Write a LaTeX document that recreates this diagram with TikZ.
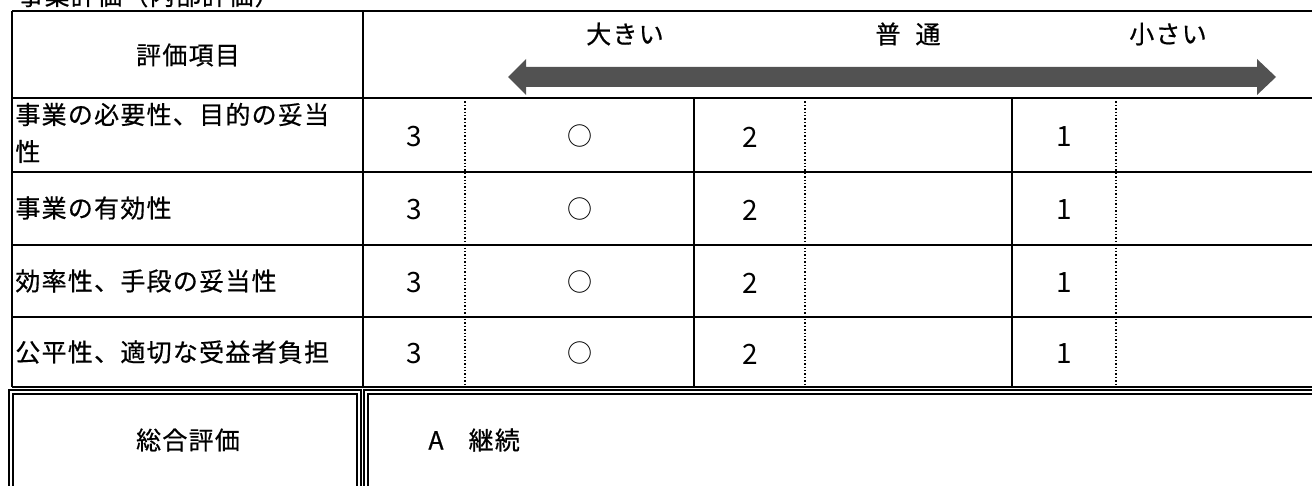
\documentclass[tikz,border=0pt]{standalone}
\usepackage{fontspec}
\setmainfont[LetterSpace=5,FakeBold=0.6]{Noto Sans CJK JP}
\newfontfamily\numfont{Noto Sans CJK JP}

\begin{document}
\begin{tikzpicture}[x=0.5pt,y=-0.5pt,
  cell_txt/.style={inner sep=0pt,font=\fontsize{12.5pt}{14pt}\selectfont},
  num_txt/.style={inner sep=0pt,font=\numfont\fontsize{14pt}{16pt}\selectfont},
  mark_txt/.style={inner sep=0pt,font=\numfont\fontsize{12.5pt}{14pt}\selectfont},
  rule_solid/.style={line width=1pt},
  rule_dot/.style={line width=0.7pt,densely dotted},
  rule_dbl/.style={line width=0.75pt}]

\useasboundingbox (0,0) rectangle (1312,486) ;
\clip (0,0) rectangle (1312,486) ;

% title, cut at the top
\node[cell_txt,anchor=base west] (title_txt) at (18,5) {事業評価（内部評価）} ;

% grid of the upper table
\draw[rule_solid] (12,11) -- (1320,11) ;
\draw[rule_solid] (12,98) -- (1320,98) ;
\draw[rule_solid] (12,172) -- (1320,172) ;
\draw[rule_solid] (12,245) -- (1320,245) ;
\draw[rule_solid] (12,317) -- (1320,317) ;
\draw[rule_solid] (12,387) -- (1320,387) ;

\draw[rule_solid] (12,11) -- (12,387) ;
\draw[rule_solid] (363,11) -- (363,387) ;
\draw[rule_solid] (694,98) -- (694,387) ;
\draw[rule_solid] (1012,98) -- (1012,387) ;
\draw[rule_dot] (465,98) -- (465,387) ;
\draw[rule_dot] (805,98) -- (805,387) ;
\draw[rule_dot] (1116,98) -- (1116,387) ;

% header
\node[cell_txt] (head_item) at (188,55) {評価項目} ;
\node[cell_txt] (head_big) at (625,34) {大きい} ;
\node[cell_txt] (head_mid) at (908,34) {普\hspace{0.6em}通} ;
\node[cell_txt] (head_small) at (1168,34) {小さい} ;

\fill[black!68] (508,77) -- (526,59) -- (526,67) -- (1257,67) -- (1257,59)
  -- (1276,77) -- (1257,95) -- (1257,87) -- (526,87) -- (526,95) -- cycle ;

% rows
\node[cell_txt,anchor=base west] (r1_item) at (15,124) {事業の必要性、目的の妥当} ;
\node[cell_txt,anchor=base west] (r1_item_b) at (15,161) {性} ;
\node[cell_txt,anchor=west] (r2_item) at (15,208) {事業の有効性} ;
\node[cell_txt,anchor=west] (r3_item) at (15,281) {効率性、手段の妥当性} ;
\node[cell_txt,anchor=west] (r4_item) at (15,352) {公平性、適切な受益者負担} ;

\node[num_txt] (r1_three) at (414,137) {3} ;
\node[mark_txt] (r1_mark) at (580,136) {○} ;
\node[num_txt] (r1_two) at (750,137) {2} ;
\node[num_txt] (r1_one) at (1064,137) {1} ;

\node[num_txt] (r2_three) at (414,210) {3} ;
\node[mark_txt] (r2_mark) at (580,209) {○} ;
\node[num_txt] (r2_two) at (750,210) {2} ;
\node[num_txt] (r2_one) at (1064,210) {1} ;

\node[num_txt] (r3_three) at (414,283) {3} ;
\node[mark_txt] (r3_mark) at (580,282) {○} ;
\node[num_txt] (r3_two) at (750,283) {2} ;
\node[num_txt] (r3_one) at (1064,283) {1} ;

\node[num_txt] (r4_three) at (414,354) {3} ;
\node[mark_txt] (r4_mark) at (580,353) {○} ;
\node[num_txt] (r4_two) at (750,354) {2} ;
\node[num_txt] (r4_one) at (1064,354) {1} ;

% overall box, double rules
\draw[rule_dbl] (9,500) -- (9,390) -- (361,390) -- (361,500) ;
\draw[rule_dbl] (13,500) -- (13,394) -- (357,394) -- (357,500) ;
\draw[rule_dbl] (1320,390) -- (364,390) -- (364,500) ;
\draw[rule_dbl] (1320,394) -- (368,394) -- (368,500) ;

\node[cell_txt] (sum_head) at (188,440) {総合評価} ;
\node[cell_txt,anchor=west] (sum_val) at (428,440) {A\hspace{1em}継続} ;

\end{tikzpicture}
\end{document}
